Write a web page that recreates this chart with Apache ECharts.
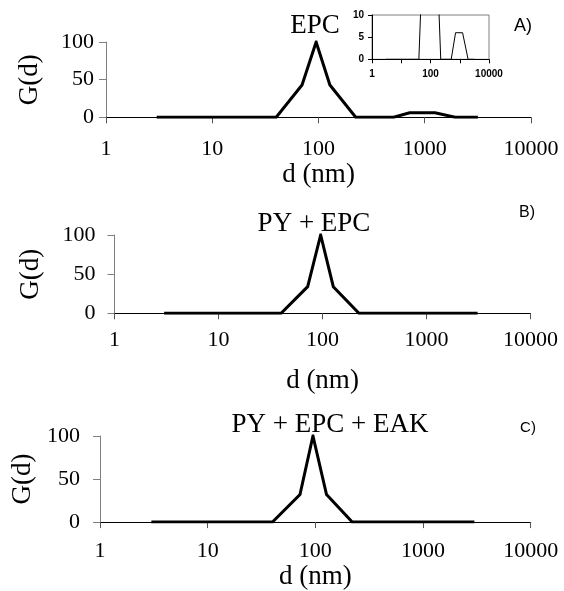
<!DOCTYPE html>
<html>
<head>
<meta charset="utf-8">
<script src="https://cdn.jsdelivr.net/npm/echarts@6/dist/echarts.min.js"></script>
<style>
html,body{margin:0;padding:0;background:#fff;}
#c{width:564px;height:591px;}
</style>
</head>
<body>
<div id="c"></div>
<script>
// ---- data ----
const sizesA = [3, 40, 70, 95, 128, 224, 510, 720, 1250, 1930, 3160];
const gA     = [0, 0, 43, 100, 43, 0, 0, 6, 6, 0, 0];
const sizesB = [3, 40, 72, 96, 127, 224, 3100];
const gB     = [0, 0, 34, 100, 34, 0, 0];
const sizesC = [3, 40, 72, 95, 127, 220, 3000];
const gC     = [0, 0, 32, 100, 32, 0, 0];
const xTicks = [1, 10, 100, 1000, 10000];
const yTicks = [0, 50, 100];
const insetYTicks = [0, 5, 10];
const insetXLabels = [1, 100, 10000];
const titles = ['EPC', 'PY + EPC', 'PY + EPC + EAK'];
const panelLabels = ['A)', 'B)', 'C)'];
const xName = 'd (nm)';
const yName = 'G(d)';

const SERIF = "'Liberation Serif', 'Times New Roman', serif";
const SANS = "'Liberation Sans', Arial, sans-serif";

function pairs(xs, ys) { return xs.map((x, i) => [x, ys[i]]); }

const grids = [
  {left: 106, top: 42, width: 425, height: 75.3},
  {left: 114.5, top: 235, width: 416, height: 78.3},
  {left: 100, top: 436, width: 430.7, height: 89.7},
  {left: 372, top: 15, width: 117, height: 44.3, show: true, borderColor: '#808080', borderWidth: 1}
];
const lblMarginX = [21, 16, 18];
const nameGapX = [42, 54, 38];
const lblMarginY = [12, 19, 20];
const nameGapY = [63, 70, 60];

const xAxes = [], yAxes = [];
for (let i = 0; i < 3; i++) {
  xAxes.push({
    gridIndex: i, type: 'log', logBase: 10, min: xTicks[0], max: xTicks[xTicks.length - 1],
    name: xName, nameLocation: 'middle', nameGap: nameGapX[i],
    nameTextStyle: {fontFamily: SERIF, fontSize: 27, color: '#000'},
    axisLine: {show: true, lineStyle: {color: '#000', width: 1}},
    axisTick: {show: true, length: 6, lineStyle: {color: '#555'}},
    minorTick: {show: false},
    splitLine: {show: false},
    axisLabel: {fontFamily: SERIF, fontSize: 22, color: '#000', margin: lblMarginX[i],
      formatter: v => String(Math.round(v))}
  });
  yAxes.push({
    gridIndex: i, type: 'value', min: yTicks[0], max: yTicks[yTicks.length - 1], interval: 50,
    name: yName, nameLocation: 'middle', nameGap: nameGapY[i],
    nameTextStyle: {fontFamily: SERIF, fontSize: 27, color: '#000'},
    axisLine: {show: true, lineStyle: {color: '#808080', width: 1}},
    axisTick: {show: true, length: 7, lineStyle: {color: '#808080'}},
    splitLine: {show: false},
    axisLabel: {fontFamily: SERIF, fontSize: 22, color: '#000', margin: lblMarginY[i]}
  });
}
// inset
xAxes.push({
  gridIndex: 3, type: 'log', logBase: 10, min: 1, max: 10000, splitNumber: 4,
  axisLine: {show: true, lineStyle: {color: '#000', width: 1}},
  axisTick: {show: true, length: 4, lineStyle: {color: '#000'}},
  splitLine: {show: false},
  axisLabel: {fontFamily: SANS, fontSize: 10, fontWeight: 'bold', color: '#000', margin: 10,
    hideOverlap: false,
    formatter: v => { const r = Math.round(v); return insetXLabels.indexOf(r) >= 0 ? String(r) : ''; }}
});
yAxes.push({
  gridIndex: 3, type: 'value', min: insetYTicks[0], max: insetYTicks[2], interval: 5,
  axisLine: {show: true, lineStyle: {color: '#000', width: 1}},
  axisTick: {show: true, length: 4, lineStyle: {color: '#000'}},
  splitLine: {show: false},
  axisLabel: {fontFamily: SANS, fontSize: 10, fontWeight: 'bold', color: '#000', margin: 8}
});

const mk = (xi, data, w) => ({
  type: 'line', xAxisIndex: xi, yAxisIndex: xi, data: data, showSymbol: false, symbol: 'none',
  clip: true, silent: true, animation: false,
  lineStyle: {color: '#000', width: w, join: 'miter'}
});

const textEl = (t, x, y, size, family) => ({
  type: 'text', x: x, y: y, silent: true,
  style: {text: t, fontSize: size, fontFamily: family, fill: '#000', align: 'center', verticalAlign: 'middle'}
});

const chart = echarts.init(document.getElementById('c'), null, {renderer: 'canvas', width: 564, height: 591});
chart.setOption({
  animation: false,
  backgroundColor: '#fff',
  grid: grids,
  xAxis: xAxes,
  yAxis: yAxes,
  series: [
    mk(0, pairs(sizesA, gA), 3),
    mk(1, pairs(sizesB, gB), 3),
    mk(2, pairs(sizesC, gC), 3),
    mk(3, pairs(sizesA, gA), 1)
  ],
  graphic: [
    textEl(titles[0], 315, 26, 27, SERIF),
    textEl(titles[1], 314, 224, 27, SERIF),
    textEl(titles[2], 330, 425, 27, SERIF),
    textEl(panelLabels[0], 523, 26, 18, SANS),
    textEl(panelLabels[1], 527, 213, 16, SANS),
    textEl(panelLabels[2], 528, 428, 15, SANS)
  ]
});
</script>
</body>
</html>
